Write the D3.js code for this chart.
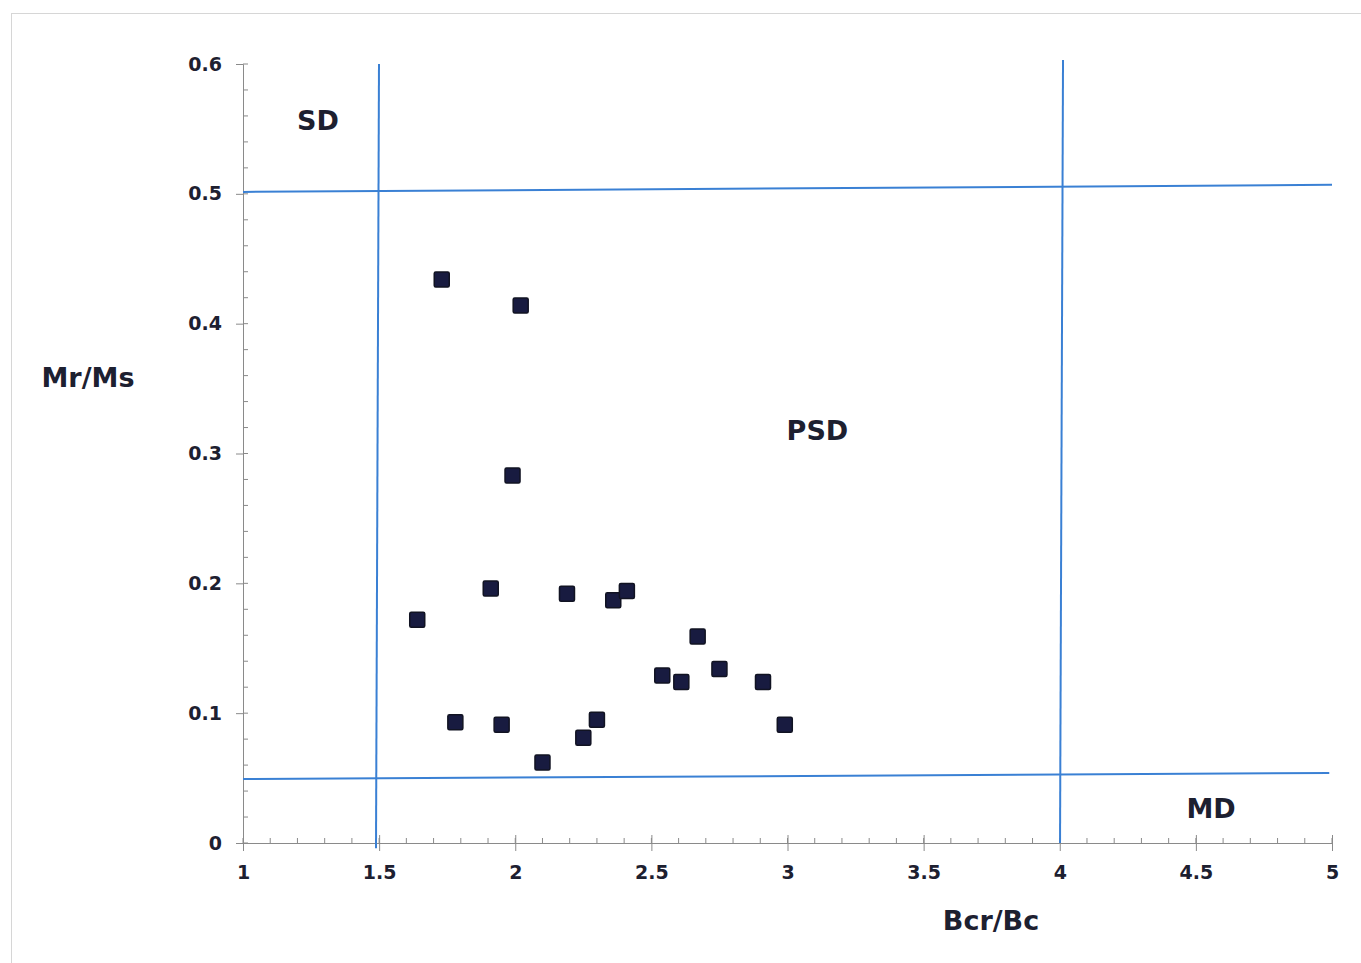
<!DOCTYPE html>
<html>
<head>
<meta charset="utf-8">
<script src="https://cdn.jsdelivr.net/npm/d3@7"></script>
<style>
  body { margin: 0; background: #fff; }
  text { font-family: "DejaVu Sans", Arial, sans-serif; font-weight: bold; fill: #1d2030; }
</style>
</head>
<body>
<div id="chart"></div>
<script>
// DATA ===========================================================================================
const bcrBc = [1.73, 2.02, 1.99, 1.64, 1.91, 2.19, 2.36, 2.41, 2.67, 2.54, 2.61, 2.75, 2.91, 2.99, 1.78, 1.95, 2.30, 2.25, 2.10]
const mrMs  = [0.434, 0.414, 0.283, 0.172, 0.196, 0.192, 0.187, 0.194, 0.159, 0.129, 0.124, 0.134, 0.124, 0.091, 0.093, 0.091, 0.095, 0.081, 0.062]

const xTicks = [1, 1.5, 2, 2.5, 3, 3.5, 4, 4.5, 5]
const yTicks = [0, 0.1, 0.2, 0.3, 0.4, 0.5, 0.6]

// Day-plot boundaries (as drawn, slightly tilted)
const boundX1 = [1, 1, 1.4995, 4.012]
const boundY1 = [0.5015, 0.0493, 0.6, 0.603]
const boundX2 = [5, 4.99, 1.4885, 4.001]
const boundY2 = [0.5069, 0.0539, -0.004, 0]

const regionNames = ['SD', 'PSD', 'MD']
const regionX = [1.275, 3.11, 4.556]
const regionY = [0.557, 0.318, 0.027]

// SET UP =========================================================================================
const width = 1361
const height = 963
const svg = d3.select('#chart').append('svg')
  .attr('width', width)
  .attr('height', height)

// light frame round the picture
svg.append('rect')
  .attr('x', 11.5).attr('y', 13.5)
  .attr('width', 1400).attr('height', 1000)
  .attr('fill', 'none')
  .attr('stroke', '#d6d6d6')

// SCALES AND AXES ================================================================================
const x = d3.scaleLinear().domain([1, 5]).range([243, 1332])
const y = d3.scaleLinear().domain([0, 0.6]).range([843, 64])

const axisColor = '#8a8a8a'

const gx = svg.append('g')
  .attr('transform', `translate(0, ${y(0)})`)
  .call(d3.axisBottom(x).tickValues(xTicks).tickSize(8).tickPadding(15).tickFormat(d => d))
gx.selectAll('.tick line').attr('y1', -8)
gx.selectAll('.tick text').style('font-size', '19px')
gx.append('g').selectAll('line')
  .data(d3.range(10, 51).map(d => d / 10))
  .join('line')
    .attr('x1', d => x(d)).attr('x2', d => x(d))
    .attr('y1', 0).attr('y2', -5)

const gy = svg.append('g')
  .attr('transform', `translate(${x(1)}, 0)`)
  .call(d3.axisLeft(y).tickValues(yTicks).tickSize(7).tickPadding(14).tickFormat(d => d))
gy.selectAll('.tick text').style('font-size', '19px')
gy.append('g').selectAll('line')
  .data(d3.range(0, 31).map(d => d / 50))
  .join('line')
    .attr('x1', 0).attr('x2', 5)
    .attr('y1', d => y(d)).attr('y2', d => y(d))

svg.selectAll('.domain, .tick line, g g line').attr('stroke', axisColor).attr('stroke-width', 1)
svg.selectAll('.tick text').attr('fill', '#1d2030')

// BOUNDARY LINES =================================================================================
svg.append('g').selectAll('line')
  .data(d3.range(boundX1.length))
  .join('line')
    .attr('x1', i => x(boundX1[i]))
    .attr('y1', i => y(boundY1[i]))
    .attr('x2', i => x(boundX2[i]))
    .attr('y2', i => y(boundY2[i]))
    .attr('stroke', '#3a80d4')
    .attr('stroke-width', 2)

// MARKS ==========================================================================================
const s = 15
svg.append('g').selectAll('rect')
  .data(d3.range(bcrBc.length))
  .join('rect')
    .attr('x', i => x(bcrBc[i]) - s / 2)
    .attr('y', i => y(mrMs[i]) - s / 2)
    .attr('width', s)
    .attr('height', s)
    .attr('rx', 1.5)
    .attr('fill', '#181b40')
    .attr('stroke', '#111322')
    .attr('stroke-width', 1.5)

// LABELS =========================================================================================
svg.append('g').selectAll('text')
  .data(regionNames)
  .join('text')
    .attr('x', (d, i) => x(regionX[i]))
    .attr('y', (d, i) => y(regionY[i]))
    .attr('dy', '0.36em')
    .attr('text-anchor', 'middle')
    .style('font-size', '27px')
    .text(d => d)

svg.append('text')
  .attr('x', 88).attr('y', 377)
  .attr('dy', '0.36em')
  .attr('text-anchor', 'middle')
  .style('font-size', '27px')
  .text('Mr/Ms')

svg.append('text')
  .attr('x', 991).attr('y', 920)
  .attr('dy', '0.36em')
  .attr('text-anchor', 'middle')
  .style('font-size', '27px')
  .text('Bcr/Bc')
</script>
</body>
</html>
